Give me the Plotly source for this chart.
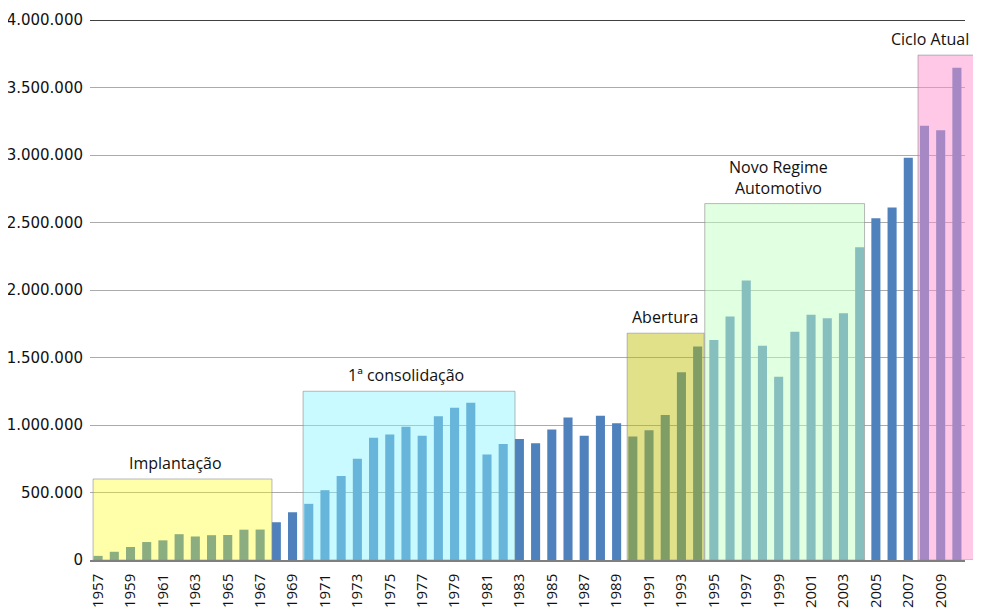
import plotly.graph_objects as go

years = list(range(1957, 2011))
production = [
    30542, 60983, 96114, 133041, 145584, 191194, 174191, 183707, 185187, 224575,
    225487, 279715, 353700, 416089, 516964, 622171, 750376, 905920, 930235, 986611,
    921193, 1064014, 1127966, 1165174, 780883, 859270, 896462, 864653, 966708, 1056332,
    920071, 1068756, 1013252, 914466, 960219, 1073861, 1391435, 1581389, 1629008, 1804328,
    2069703, 1586291, 1356714, 1691240, 1817116, 1791530, 1827791, 2317227, 2530840, 2611034,
    2980163, 3215976, 3182923, 3646548,
]

period_names = ["Implantação", "1ª consolidação", "Abertura", "Novo Regime<br>Automotivo", "Ciclo Atual"]
period_start = [1956.69, 1969.65, 1989.65, 1994.44, 2007.6]
period_end = [1967.73, 1982.73, 1994.40, 2004.30, 2011.44]
period_top = [600000, 1250000, 1680000, 2640000, 3740000]
period_label_x = [1961.8, 1976.0, 1992.0, 1999.0, 2010.9]
period_label_anchor = ["center", "center", "center", "center", "right"]
period_label_size = [16, 16, 16, 16, 16]
period_fill = [
    "rgba(255,255,11,0.35)",
    "rgba(133,244,255,0.45)",
    "rgba(190,190,0,0.46)",
    "rgba(194,255,194,0.49)",
    "rgba(255,143,204,0.49)",
]

tick_years = years[::2]
y_ticks = [0, 500000, 1000000, 1500000, 2000000, 2500000, 3000000, 3500000, 4000000]
y_labels = ["0", "500.000", "1.000.000", "1.500.000", "2.000.000", "2.500.000",
            "3.000.000", "3.500.000", "4.000.000"]

x_min, x_max = years[0] - 0.5, years[-1] + 0.5


def to_paper(x):
    return (x - x_min) / (x_max - x_min)


fig = go.Figure()
fig.add_trace(go.Bar(x=years, y=production, marker_color="#4F81BD",
                     marker_line_width=0, width=0.56, showlegend=False))

for name, x0, x1, top, lx, anc, fs, fill in zip(period_names, period_start, period_end,
                                                period_top, period_label_x,
                                                period_label_anchor, period_label_size,
                                                period_fill):
    fig.add_shape(type="rect", xref="paper", yref="y",
                  x0=to_paper(x0), x1=to_paper(x1), y0=0, y1=top,
                  fillcolor=fill, line=dict(color="rgba(140,140,140,0.6)", width=1),
                  layer="above")
    fig.add_annotation(x=to_paper(lx), y=top, xref="paper", yref="y", text=name,
                       showarrow=False, xanchor=anc, yanchor="bottom", yshift=3,
                       font=dict(family="Open Sans", size=fs, color="#111111"))

fig.add_shape(type="line", xref="paper", yref="y", x0=0, x1=1, y0=4000000, y1=4000000,
              line=dict(color="black", width=1.5), layer="above")

fig.update_layout(
    width=973, height=605,
    margin=dict(l=82, r=16, t=12, b=53),
    paper_bgcolor="white", plot_bgcolor="white",
    showlegend=False,
    xaxis=dict(range=[x_min, x_max], tickmode="array", tickvals=tick_years,
               ticktext=[str(y) for y in tick_years], tickangle=-90,
               showgrid=False, showline=True, linecolor="#7f7f7f", linewidth=1.5,
               ticks="", automargin=False, ticklabelstandoff=6,
               tickfont=dict(family="Open Sans", size=15, color="#111111")),
    yaxis=dict(range=[0, 4000000], tickmode="array", tickvals=y_ticks, ticktext=y_labels,
               showgrid=True, gridcolor="#ababab", gridwidth=1.3, zeroline=False,
               showline=False, ticks="", automargin=False, ticklabelstandoff=6,
               tickfont=dict(family="DejaVu Sans", size=15, color="#111111")),
)

fig.write_html("out.html")
